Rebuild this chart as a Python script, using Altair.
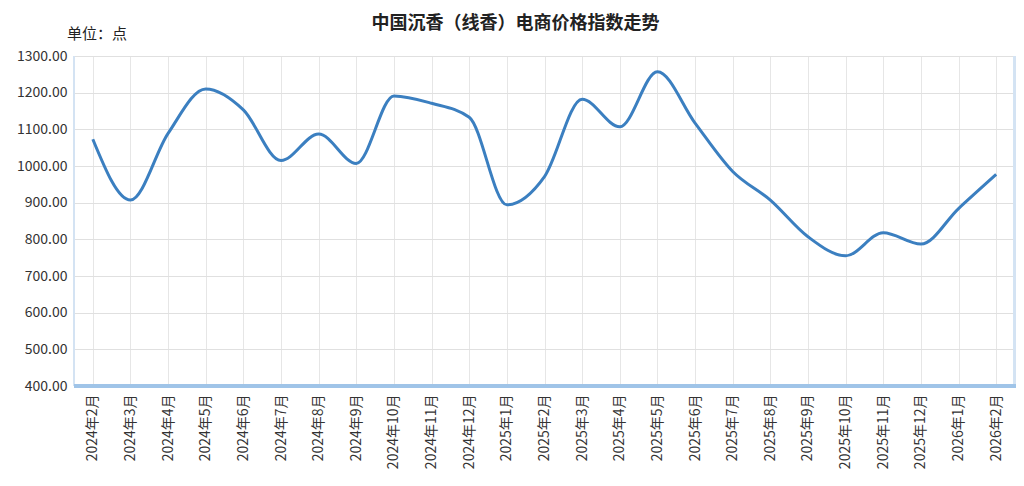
import altair as alt
import pandas as pd

months = ["2024年2月", "2024年3月", "2024年4月", "2024年5月", "2024年6月", "2024年7月",
          "2024年8月", "2024年9月", "2024年10月", "2024年11月", "2024年12月",
          "2025年1月", "2025年2月", "2025年3月", "2025年4月", "2025年5月", "2025年6月",
          "2025年7月", "2025年8月", "2025年9月", "2025年10月", "2025年11月", "2025年12月",
          "2026年1月", "2026年2月"]
values = [1073, 907, 1089, 1210, 1153, 1015, 1087, 1007, 1191, 1171, 1133,
          894, 971, 1182, 1107, 1257, 1117, 985, 907, 807, 755, 818, 787, 884, 977]

title_text = "中国沉香（线香）电商价格指数走势"
unit_text = "单位：点"

df = pd.DataFrame({"month": months, "value": values})
FONT = "Noto Sans CJK SC"
W, H = 941, 330

x_enc = alt.X("month:N", sort=months, title=None,
              scale=alt.Scale(type="point", padding=0.5),
              axis=alt.Axis(labelAngle=270, labelFontSize=14, labelColor="#333333",
                            labelFont=FONT, labelPadding=8, ticks=False, domain=False,
                            grid=True, gridColor="#e6e6e6", gridWidth=1))
y_enc = alt.Y("value:Q", title=None,
              scale=alt.Scale(domain=[400, 1300], nice=False, zero=False),
              axis=alt.Axis(values=[400, 500, 600, 700, 800, 900, 1000, 1100, 1200, 1300],
                            format=".2f", labelFontSize=14, labelColor="#333333",
                            labelFont=FONT, labelPadding=7, ticks=False, domain=False,
                            grid=True, gridColor="#e0e0e0", gridWidth=1.2))

line = alt.Chart(df).mark_line(interpolate="monotone", strokeWidth=3, color="#3b7fc0").encode(
    x=x_enc, y=y_enc)

left_rule = alt.Chart(df).mark_rule(color="#d4e3f3", strokeWidth=2).encode(
    x=alt.value(0), y=alt.value(0), y2=alt.value(H))
right_rule = alt.Chart(df).mark_rule(color="#d4e3f3", strokeWidth=3).encode(
    x=alt.value(W), y=alt.value(0), y2=alt.value(H))
bottom_rule = alt.Chart(df).mark_rule(color="#9fc4e8", strokeWidth=3).encode(
    x=alt.value(0), x2=alt.value(W + 1), y=alt.value(H))

unit = alt.Chart(pd.DataFrame({"t": [unit_text]})).mark_text(
    font=FONT, fontSize=15, color="#222222", align="left", baseline="middle"
).encode(text="t:N", x=alt.value(-7), y=alt.value(-22))

chart = alt.layer(left_rule, right_rule, line, bottom_rule, unit).properties(
    width=W, height=H,
    title=alt.TitleParams(text=title_text, font=FONT, fontSize=18, fontWeight="bold",
                          color="#222222", anchor="middle", frame="group",
                          baseline="middle", dx=-29, offset=0, dy=15),
    autosize=alt.AutoSizeParams(type="none"),
    padding={"left": 66, "top": 48, "right": 1, "bottom": 92},
).configure_view(stroke=None).configure(background="white")

chart.save("out.html", embed_options={"renderer": "svg", "actions": False})
